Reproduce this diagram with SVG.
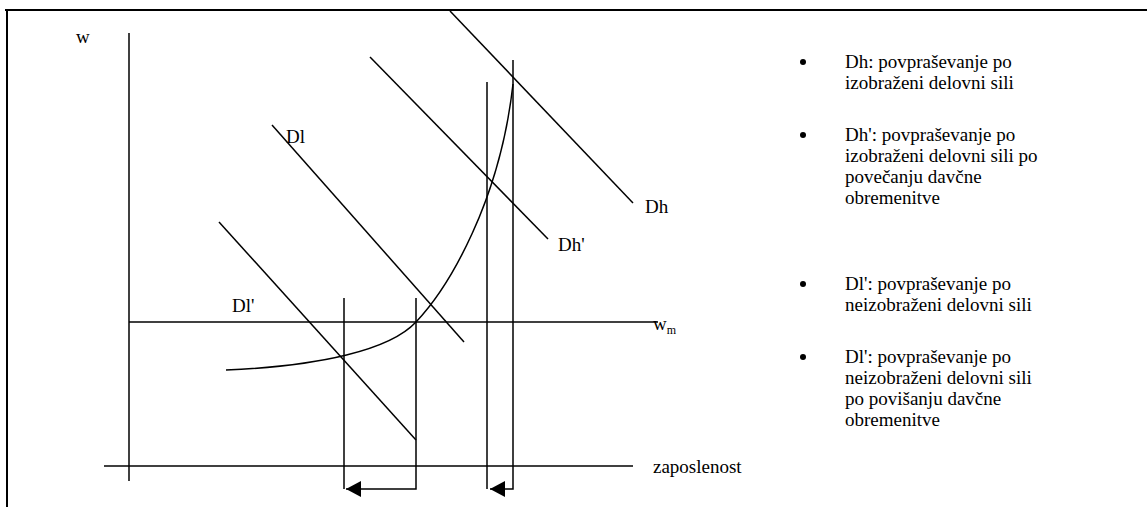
<svg xmlns="http://www.w3.org/2000/svg" width="1147" height="507" viewBox="0 0 1147 507">
<style>
.ln{stroke:#000;stroke-width:1.5;fill:none}
.fr{stroke:#000;stroke-width:2;fill:none}
.t{font-family:"Liberation Serif","Times New Roman",serif;font-size:19px;fill:#000}
</style>
<defs>
<marker id="ah" markerWidth="16" markerHeight="16" refX="15" refY="8" orient="auto" markerUnits="userSpaceOnUse">
<path d="M0,0 L15,8 L0,16 Z" fill="#000"/>
</marker>
<clipPath id="legclip"><rect x="790" y="30" width="357" height="401"/></clipPath>
</defs>
<rect width="1147" height="507" fill="#fff"/>
<g id="frame">
<line class="fr" x1="5" y1="10" x2="1147" y2="10"/>
<line class="fr" x1="7" y1="10" x2="7" y2="507"/>
</g>
<g id="axes">
<line class="ln" x1="129" y1="33" x2="129" y2="481"/>
<line class="ln" x1="129" y1="322" x2="658" y2="322"/>
<line class="ln" x1="104" y1="466" x2="633" y2="466"/>
<text class="t" x="76" y="43">w</text>
<text class="t" x="653" y="330">w<tspan font-size="12" dy="4">m</tspan></text>
<text class="t" x="653" y="473">zaposlenost</text>
</g>
<g id="demand-lines">
<g id="Dh"><line class="ln" x1="450" y1="11" x2="633" y2="203"/><text class="t" x="645" y="213">Dh</text></g>
<g id="Dh-prime"><line class="ln" x1="370" y1="57" x2="548" y2="239"/><text class="t" x="558" y="251">Dh'</text></g>
<g id="Dl"><line class="ln" x1="272" y1="125" x2="464" y2="342"/><text class="t" x="286" y="143">Dl</text></g>
<g id="Dl-prime"><line class="ln" x1="219" y1="222" x2="416" y2="440"/><text class="t" x="232" y="312">Dl'</text></g>
</g>
<g id="supply-curve">
<path class="ln" d="M226,370 C320,366 390,350 416,322 C450,286 500,200 513,84"/>
</g>
<g id="connectors">
<polyline class="ln" points="344,298 344,489"/>
<polyline class="ln" points="416,298 416,489 346,489" marker-end="url(#ah)"/>
<polyline class="ln" points="487,82 487,489"/>
<polyline class="ln" points="513,60 513,489 490,489" marker-end="url(#ah)"/>
</g>
<g id="legend" clip-path="url(#legclip)">
<g id="leg1"><circle cx="803" cy="62" r="3"/><text class="t" x="845" y="68">Dh: povpraševanje po</text><text class="t" x="845" y="89">izobraženi delovni sili</text></g>
<g id="leg2"><circle cx="803" cy="135" r="3"/><text class="t" x="845" y="141">Dh': povpraševanje po</text><text class="t" x="845" y="162">izobraženi delovni sili po</text><text class="t" x="845" y="183">povečanju davčne</text><text class="t" x="845" y="204">obremenitve</text></g>
<g id="leg3"><circle cx="803" cy="284" r="3"/><text class="t" x="845" y="290">Dl': povpraševanje po</text><text class="t" x="845" y="311">neizobraženi delovni sili</text></g>
<g id="leg4"><circle cx="803" cy="357" r="3"/><text class="t" x="845" y="363">Dl': povpraševanje po</text><text class="t" x="845" y="384">neizobraženi delovni sili</text><text class="t" x="845" y="405">po povišanju davčne</text><text class="t" x="845" y="426">obremenitve</text></g>
</g>
</svg>
